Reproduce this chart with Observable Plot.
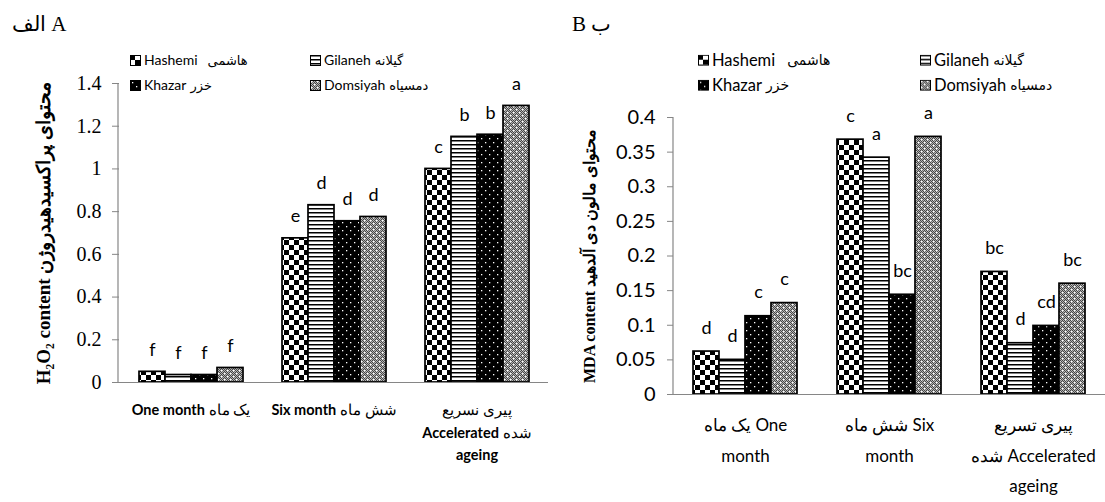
<!DOCTYPE html>
<html><head><meta charset="utf-8">
<script src="https://cdn.jsdelivr.net/npm/d3@7"></script>
<script src="https://cdn.jsdelivr.net/npm/@observablehq/plot@0.6"></script>
<style>
body{margin:0;background:#fff;}
#wrap{position:relative;width:1105px;height:502px;overflow:hidden;background:#fff;}
.ttl{position:absolute;font-family:"Liberation Serif",serif;font-size:21px;line-height:1;white-space:nowrap;}
.leg{position:absolute;font-family:Lato,sans-serif;line-height:1;white-space:nowrap;display:flex;align-items:center;transform:translateY(-50%);}
.leg svg{margin-right:3px;}
.leg .fa{font-family:"DejaVu Sans",sans-serif;}
</style></head><body>
<svg width="0" height="0" style="position:absolute">
<defs>
<pattern id="p-hashemi" patternUnits="userSpaceOnUse" width="10" height="10"><rect width="10" height="10" fill="#fff"/><rect width="5" height="5" fill="#000"/><rect x="5" y="5" width="5" height="5" fill="#000"/></pattern>
<pattern id="p-gilaneh" patternUnits="userSpaceOnUse" width="4" height="4"><rect width="4" height="4" fill="#fff"/><rect width="4" height="1.5" fill="#000"/></pattern>
<pattern id="p-khazar" patternUnits="userSpaceOnUse" width="8" height="8"><rect width="8" height="8" fill="#000"/><rect x="2" y="2" width="1.3" height="1.3" fill="#fff"/><rect x="6" y="6" width="1.3" height="1.3" fill="#fff"/></pattern>
<pattern id="p-fine" patternUnits="userSpaceOnUse" width="2" height="2"><rect width="2" height="2" fill="#b4b4b4"/><rect width="1" height="1" fill="#444"/><rect x="1" y="1" width="1" height="1" fill="#444"/></pattern>
<pattern id="p-domsiyah" patternUnits="userSpaceOnUse" width="6" height="6"><rect width="6" height="6" fill="url(#p-fine)"/><rect x="1" y="1" width="1.5" height="1.5" fill="#fff"/><rect x="4" y="4" width="1.5" height="1.5" fill="#fff"/></pattern>
</defs></svg>
<div id="wrap"></div>
<script>
// ---------- data ----------
const groupKeys = ["one", "six", "acc"];
const seriesNames = ["Hashemi", "Gilaneh", "Khazar", "Domsiyah"];
const seriesFa = ["هاشمی", "گیلانه", "خزر", "دمسیاه"];

// Panel A: H2O2 content
const h2o2One = [0.05, 0.035, 0.035, 0.068];
const h2o2Six = [0.675, 0.83, 0.755, 0.775];
const h2o2Acc = [1.0, 1.15, 1.16, 1.295];
const h2o2LetOne = ["f", "f", "f", "f"];
const h2o2LetSix = ["e", "d", "d", "d"];
const h2o2LetAcc = ["c", "b", "b", "a"];
const h2o2Ticks = [0, 0.2, 0.4, 0.6, 0.8, 1, 1.2, 1.4];
const h2o2GroupLabels = ["One month یک ماه", "Six month شش ماه", "پیری نسریع\nAccelerated شده\nageing"];
const h2o2Title = "H₂O₂ content محتوای پراکسیدهیدروژن";
const panelATitle = "الف A";

// Panel B: MDA content
const mdaOne = [0.062, 0.05, 0.113, 0.132];
const mdaSix = [0.368, 0.342, 0.144, 0.372];
const mdaAcc = [0.177, 0.074, 0.099, 0.16];
const mdaLetOne = ["d", "d", "c", "c"];
const mdaLetSix = ["c", "a", "bc", "a"];
const mdaLetAcc = ["bc", "d", "cd", "bc"];
const mdaTicks = [0, 0.05, 0.1, 0.15, 0.2, 0.25, 0.3, 0.35, 0.4];
const mdaGroupLabels = ["یک ماه One\nmonth", "شش ماه Six\nmonth", "پیری تسریع\nشده Accelerated\nageing"];
const mdaTitle = "MDA content محتوای مالون دی آلدهید";
const panelBTitle = "B ب";

// ---------- helpers ----------
function rowsOf(valueLists, letterLists) {
  const rows = [];
  groupKeys.forEach((g, i) => seriesNames.forEach((s, j) => {
    rows.push({group: g, series: s, value: valueLists[i][j], letter: letterLists[i][j]});
  }));
  return rows;
}
const patternOf = s => `url(#p-${s.toLowerCase()})`;

function boldLatin(svg) {
  d3.select(svg).selectAll('g[aria-label="fx-axis tick label"] text').each(function () {
    const tspans = Array.from(this.querySelectorAll("tspan"));
    const targets = tspans.length ? tspans : [this];
    for (const node of targets) {
      const s = node.textContent;
      const parts = s.split(/([A-Za-z][A-Za-z ]*[A-Za-z])/).filter(p => p !== "");
      node.textContent = "";
      for (const p of parts) {
        const sp = document.createElementNS("http://www.w3.org/2000/svg", "tspan");
        if (/[A-Za-z]/.test(p)) sp.setAttribute("font-weight", "bold");
        sp.textContent = p;
        node.appendChild(sp);
      }
    }
  });
}

function makeChart(o) {
  const rows = rowsOf(o.values, o.letters);
  const chart = Plot.plot({
    width: o.width, height: 502,
    marginLeft: o.ml, marginRight: o.mr, marginTop: o.mt, marginBottom: o.mb,
    style: {background: "transparent", overflow: "visible"},
    fx: {domain: groupKeys, padding: 0},
    x: {domain: seriesNames, paddingInner: 0, paddingOuter: 0.7, axis: null},
    y: {domain: [0, o.yMax]},
    color: {type: "identity"},
    marks: [
      Plot.barY(rows, {fx: "group", x: "series", y: "value", fill: d => patternOf(d.series), stroke: "#000", strokeWidth: 1.7}),
      Plot.ruleY([0], {stroke: "#868686", strokeWidth: 1.2}),
      Plot.text(rows, {fx: "group", x: "series", y: "value", text: "letter", dy: o.letterDy, lineAnchor: "bottom", fontSize: o.letterSize, fontFamily: "Lato, sans-serif", fill: "#000"}),
      Plot.axisY({ticks: o.ticks, tickFormat: d => `${d}`, tickSize: o.tickSize, tickPadding: o.tickPadding,
        fontSize: o.tickFont, fontFamily: o.tickFamily, stroke: "#868686", fill: "#000",
        label: o.yLabel, labelAnchor: "center", labelOffset: o.labelOffset, labelArrow: "none"}),
      Plot.axisFx({anchor: "bottom", tickSize: 0, tickPadding: o.fxPad, lineHeight: o.fxLH,
        tickFormat: k => o.groupLabels[groupKeys.indexOf(k)], fontSize: o.fxFont, fontFamily: "Lato, sans-serif", fill: "#000", label: null})
    ]
  });
  chart.style.position = "absolute";
  chart.style.left = o.left + "px";
  chart.style.top = "0px";
  chart.style.maxWidth = "none";
  d3.select(chart).selectAll('g[aria-label="y-axis label"] text')
    .attr("font-family", "'Liberation Serif', serif").attr("font-weight", "bold").attr("font-size", o.labelFont);
  const y = chart.scale("y");
  d3.select(chart).append("line")
    .attr("x1", o.ml).attr("x2", o.ml)
    .attr("y1", y.apply(0)).attr("y2", y.apply(o.yMax))
    .attr("stroke", "#868686").attr("stroke-width", 1.2);
  if (o.boldLatin) boldLatin(chart);
  return chart;
}

const wrap = document.getElementById("wrap");
wrap.appendChild(makeChart({
  values: [h2o2One, h2o2Six, h2o2Acc], letters: [h2o2LetOne, h2o2LetSix, h2o2LetAcc],
  width: 560, left: 0, ml: 118, mr: 12, mt: 83, mb: 120, yMax: 1.4, ticks: h2o2Ticks,
  tickSize: 7, tickPadding: 11, tickFont: 20, tickFamily: "'Liberation Serif', serif",
  yLabel: h2o2Title, labelOffset: 83, labelFont: 19,
  groupLabels: h2o2GroupLabels, fxPad: 17, fxLH: 1.55, fxFont: 14.5,
  letterDy: -16, letterSize: 18, boldLatin: true
}));
wrap.appendChild(makeChart({
  values: [mdaOne, mdaSix, mdaAcc], letters: [mdaLetOne, mdaLetSix, mdaLetAcc],
  width: 545, left: 560, ml: 113, mr: 0, mt: 117, mb: 108, yMax: 0.4, ticks: mdaTicks,
  tickSize: 6, tickPadding: 12, tickFont: 20, tickFamily: "Lato, sans-serif",
  yLabel: mdaTitle, labelOffset: 90, labelFont: 16,
  groupLabels: mdaGroupLabels, fxPad: 15, fxLH: 1.8, fxFont: 17,
  letterDy: -18, letterSize: 18, boldLatin: false
}));

function addTitle(text, x, y) {
  const d = document.createElement("div");
  d.className = "ttl"; d.textContent = text;
  d.style.left = x + "px"; d.style.top = y + "px";
  wrap.appendChild(d);
}
addTitle(panelATitle, 12, 14);
addTitle(panelBTitle, 572, 14);

function addLegend(colX, rowY, size, faSize, gap0) {
  seriesNames.forEach((s, i) => {
    const d = document.createElement("div");
    d.className = "leg";
    d.style.fontSize = size + "px";
    d.style.left = colX[i % 2] + "px";
    d.style.top = rowY[Math.floor(i / 2)] + "px";
    d.innerHTML = `<svg width="11" height="11"><rect x="0.5" y="0.5" width="10" height="10" fill="${patternOf(s)}" stroke="#000"/></svg>` +
      `<span>${s}</span><span class="fa" style="font-size:${faSize}px;margin-left:${i === 0 ? gap0 : 4}px">${seriesFa[i]}</span>`;
    wrap.appendChild(d);
  });
}
addLegend([130, 310], [60, 85], 14, 13, 10);
addLegend([698, 920], [60, 85], 16.5, 14, 12);
</script>
</body></html>
